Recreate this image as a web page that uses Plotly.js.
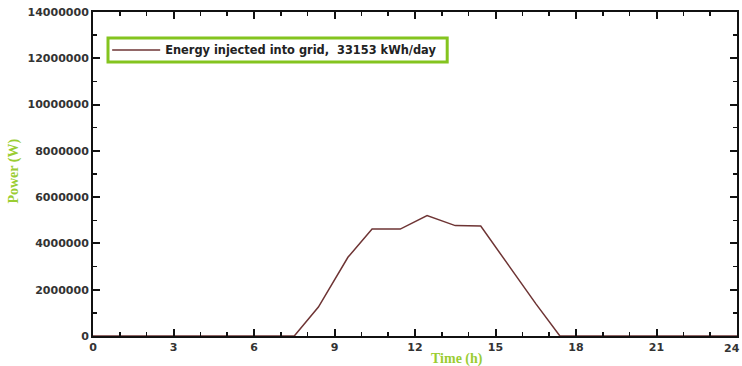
<!DOCTYPE html>
<html>
<head>
<meta charset="utf-8">
<script src="https://cdn.plot.ly/plotly-3.0.1.min.js"></script>
<style>html,body{margin:0;padding:0;background:#fff;}#chart{width:742px;height:366px;}</style>
</head>
<body>
<div id="chart"></div>
<script>
// Data
const hours = [0, 1, 2, 3, 4, 5, 6, 7, 7.5, 8.4, 9.5, 10.4, 11.45, 12.45, 13.5, 14.45, 15.5, 16.5, 17.4, 18, 19, 20, 21, 22, 23, 24];
const powerW = [0, 0, 0, 0, 0, 0, 0, 0, 0, 1250000, 3400000, 4620000, 4620000, 5200000, 4770000, 4750000, 3050000, 1400000, 0, 0, 0, 0, 0, 0, 0, 0];
const seriesName = 'Energy injected into grid,  33153 kWh/day';
const xTickVals = [0, 3, 6, 9, 12, 15, 18, 21];
const lastXTick = 24;
const yTickVals = [0, 2000000, 4000000, 6000000, 8000000, 10000000, 12000000, 14000000];

const tickFont = {family: 'DejaVu Sans', size: 11, color: '#333333', weight: 'bold'};
const titleFont = {family: 'Liberation Serif', size: 14, color: '#9acd32', weight: 'bold'};

const trace = {
  x: hours, y: powerW, type: 'scatter', mode: 'lines', name: seriesName,
  line: {color: '#6e3434', width: 1.5}
};

const axisCommon = {
  showgrid: false, zeroline: false, showline: true, linecolor: '#111', linewidth: 2,
  mirror: 'allticks', ticks: 'inside', ticklen: 7, tickwidth: 2, tickcolor: '#111',
  tickfont: tickFont
};

const layout = {
  width: 742, height: 366,
  margin: {l: 93, r: 5, t: 12, b: 30},
  paper_bgcolor: '#fff', plot_bgcolor: '#fff',
  showlegend: true,
  legend: {x: 0.022, y: 0.883, xanchor: 'left', yanchor: 'middle', borderwidth: 0,
           bgcolor: 'rgba(0,0,0,0)', itemwidth: 48,
           font: {family: 'DejaVu Sans', size: 11.4, color: '#222', weight: 'bold'}},
  shapes: [
    {type: 'rect', xref: 'paper', yref: 'paper', x0: 0.0233, x1: 0.55, y0: 0.846, y1: 0.920,
     line: {color: '#84c41f', width: 3}, fillcolor: 'rgba(0,0,0,0)', layer: 'above'}
  ],
  xaxis: Object.assign({}, axisCommon, {
    range: [0, 24], tickvals: xTickVals, ticktext: xTickVals.map(String),
    minor: {dtick: 1, ticks: 'inside', ticklen: 4, tickwidth: 1.5, tickcolor: '#111'}
  }),
  yaxis: Object.assign({}, axisCommon, {
    range: [0, 14000000], tickvals: yTickVals, ticktext: yTickVals.map(String),
    minor: {dtick: 1000000, ticks: 'inside', ticklen: 4, tickwidth: 1.5, tickcolor: '#111'}
  }),
  annotations: [
    {text: String(lastXTick), xref: 'paper', yref: 'paper', x: 1, xshift: 5, y: 0, yshift: -4,
     xanchor: 'right', yanchor: 'top', showarrow: false, font: tickFont},
    {text: 'Time (h)', xref: 'paper', yref: 'paper', x: 0.565, y: -0.071, xanchor: 'center', yanchor: 'middle',
     showarrow: false, font: titleFont},
    {text: 'Power (W)', xref: 'paper', yref: 'paper', x: -0.123, y: 0.51, xanchor: 'center', yanchor: 'middle',
     textangle: -90, showarrow: false, font: titleFont}
  ]
};

Plotly.newPlot('chart', [trace], layout, {displayModeBar: false, staticPlot: true});
</script>
</body>
</html>
